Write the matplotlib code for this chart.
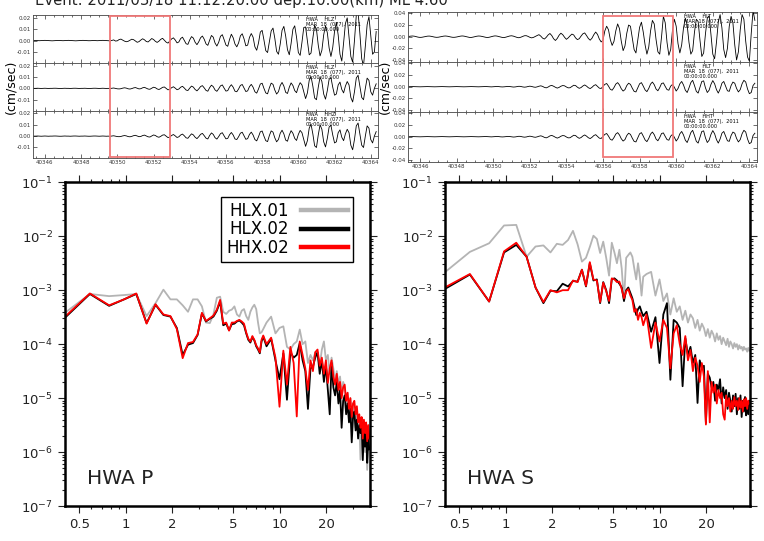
import matplotlib
matplotlib.use('Agg')
import matplotlib.pyplot as plt
from matplotlib.patches import Rectangle
from matplotlib.transforms import blended_transform_factory
from matplotlib.ticker import (FixedLocator, FixedFormatter, FormatStrFormatter, MultipleLocator,
                               LogLocator, NullFormatter)
import numpy as np

# ---- seismograms: 0.1 s samples from t0, amplitudes in 1e-3 cm/s ----
t0 = 40345.4
dt = 0.1

p_z01 = [0, 0.1, 0, -0.1, 0, 0.1, 0.2, 0.1, 0, -0.1, -0.2, -0.1, 0, 0.1, 0.1, 0, -0.1, 0, 0.1, 0.2,
         0.1, 0, -0.1, -0.2, -0.1, 0, 0.1, 0.2, 0.1, 0, -0.1, -0.1, 0, 0.1, 0, -0.1, 0, 0.1, 0.2, 0.1,
         0, -0.1,
         -0.3, 0.2, 0.6, -0.4, -0.2, 0.9, 1.3, 0.4, -0.5, -1.0, -0.6, 0.3, 1.2, 0.8, -0.4, -1.5, -0.9,
         0.5, 1.6, 0.7, -0.8, -1.2, 0.2, 1.8, 1.0, -0.6, -1.6, -0.5, 1.1, 2.0, 0.3, -1.4, -2.2, -0.4, 1.5,
         2.4, 0.5, -2.0, -1.2, 1.8, 3.0, 0.2, -2.8, -3.3, 0.6, 3.5, 2.2, -1.5, -3.6, -1.0, 2.5, 4.0,
         1.2, -2.9, -4.2, 0.3, 4.5, 3.0, -2.2, -4.8, -1.5, 3.8, 5.2, 0.8, -3.9, -5.0, 1.0, 5.6, 2.5,
         -3.0, -5.5, -2.0, 4.2, 6.0, 1.5, -4.6, -4.0, 2.8, 6.2,
         3.0, -5.5, -8.5, -2.0, 7.5, 9.0, 0.5, -8.8, -10.5, -1.0, 8.5, 11.0, 2.0, -9.5, -12.0, -3.0,
         9.0, 12.5, 4.0, -8.0, -12.5, -2.5, 10.0, 13.0, 3.0, -10.5, -13.0, -1.5, 11.5, 12.0, -0.5,
         -12.5, -11.0, 2.0, 13.5, 10.0, -4.0, -13.5, -8.5, 5.0, 13.0, 7.0, -6.5, -14.0, -6.0,
         8.0, 16.0, 5.0, -12.0, -18.0, -2.0, 15.0, 20.0, 3.0, -14.0, -19.0, 0.0, 22.0, 25.0, 6.0,
         -16.0, -22.0, -5.0, 14.0, 21.0, 4.0, -12.0, -10.0, 8.0]

p_z02 = [0, 0, 0.1, 0, -0.1, 0, 0.1, 0, -0.1, 0, 0, 0.1, 0.1, 0, -0.1, -0.1, 0, 0.1, 0, 0,
         -0.1, 0, 0.1, 0.1, 0, -0.1, 0, 0, 0.1, 0, -0.1, -0.1, 0, 0.1, 0.1, 0, -0.1, 0, 0.1, 0,
         -0.1, 0,
         -0.2, 0.1, 0.3, -0.1, -0.4, -0.5, -0.3, 0.2, 0.5, 0.2, -0.4, -0.6, -0.2, 0.4, 0.7, 0.1, -0.5,
         -0.3, 0.5, 0.9, 0.2, -0.6, -0.8, 0.1, 1.0, 0.6, -0.5, -1.0, -0.2, 0.9, 1.2, -0.1, -1.3, -0.8, 0.6,
         1.4, 0.2, -1.2, -0.6, 1.0, 1.8, 0.3, -1.5, -1.9, 0.2, 2.0, 1.1, -1.0, -2.2, -0.5, 1.6, 2.4,
         0.4, -1.8, -2.5, 0.6, 2.8, 1.5, -1.4, -2.6, -0.4, 2.2, 3.0, 0.2, -2.4, -2.0, 1.2, 3.2, 1.0,
         -2.5, -3.0, -0.5, 2.6, 3.4, 0.4, -2.8, -2.2, 1.5, 3.5,
         1.0, -3.0, -4.2, -0.5, 3.8, 4.5, 0.0, -4.0, -4.8, 0.5, 4.6, 3.5, -1.5, -5.0, -3.0, 2.5, 5.2,
         2.0, -3.5, -4.5, 1.0, 4.8, 2.5, -2.0, -3.8, 1.5, 5.0, 3.0, -3.0, -9.0, -4.0, 7.0, 10.5, 2.0,
         -8.5, -10.0, 1.0, 10.0, 6.0, -5.0, -9.5, -2.0, 8.0, 9.5, 1.0,
         -6.0, -5.0, 3.0, 5.5, -1.0, -4.0, 2.0, 6.0, 3.0, -8.0, -12.0, -3.0, 9.0, 11.5, 2.0, -8.0,
         -10.0, 0.0, 9.0, 7.0, -3.0, -6.0, 0.0, 4.0]

s_t01 = [0.5, 1.0, 1.2, 0.8, 0.0, -0.8, -1.2, -1.0, -0.4, 0.3,
         0.9, 1.1, 0.7, 0.0, -0.7, -1.1, -0.9, -0.3, 0.4, 1.0,
         1.2, 0.8, 0.1, -0.6, -1.1, -1.0, -0.5, 0.2, 0.9, 1.3,
         1.0, 0.3, -0.5, -1.2, -1.3, -0.7, 0.1, 0.8, 1.2, 1.0,
         0.4, -0.4, -1.1, -1.4, -0.8, 0.0, 0.9, 1.4, 1.1, 0.3,
         -0.6, -1.3, -1.5, -0.7, 0.3, 1.2, 1.6, 1.0, -0.2, -1.2,
         -1.8, -1.0, 0.4, 1.6, 1.8, 0.6, -1.0, -2.0, -1.2, 0.5,
         2.0, 3.5, 1.0, -2.5, -4.0, -1.0, 3.0, 5.5, 2.0, -3.5, -6.5, -3.0, 2.5, 6.0, 3.5, -1.0,
         -4.5, -2.0, 1.5, 4.5, 3.0, -2.0, -5.0, -3.5, 1.0, 5.0, 6.5, 2.0, -3.0, -6.0, -2.5, 3.5,
         8.0, 4.0, -4.0, -9.0,
         -6.0, 10.0, 18.0, 12.0, -5.0, -15.0, -8.0, 10.0, 22.0, 14.0, -8.0, -24.0, -16.0, 6.0,
         20.0, 18.0, -2.0, -22.0, -28.0, -6.0, 16.0, 25.0, 8.0, -14.0, -30.0, -18.0, 10.0, 28.0,
         22.0, -5.0, -26.0, -30.0, 0.0, 35.0, 24.0, -10.0, -32.0, -22.0, 12.0, 30.0,
         18.0, -12.0, -28.0, -14.0, 15.0, 32.0, 20.0, -10.0, -30.0, -24.0, 8.0, 30.0, 26.0, -6.0,
         -34.0, -28.0, 5.0, 32.0, 36.0, 4.0, -30.0, -38.0, -10.0, 25.0, 38.0, 15.0, -22.0, -36.0,
         -20.0, 18.0, 35.0, 24.0, -14.0, -40.0, -26.0, 12.0, 38.0, 30.0, -8.0, -35.0, -42.0, 5.0,
         45.0, 28.0]

s_t02 = [0, 0.1, 0.2, 0.1, 0, -0.1, -0.2, -0.1, 0, 0.1,
         0.2, 0.1, 0, -0.1, -0.2, -0.1, 0, 0.1, 0.2, 0.1,
         0, -0.1, -0.2, -0.1, 0, 0.1, 0.2, 0.1, 0, -0.1,
         -0.2, -0.1, 0, 0.1, 0.2, 0.1, 0, -0.1, -0.2, -0.1,
         0, 0.2, 0.3, 0.1, -0.2, -0.3, -0.1, 0.2, 0.4, 0.2,
         -0.2, -0.4, -0.2, 0.2, 0.5, 0.3, -0.2, -0.6, -0.4, 0.2,
         0.7, 0.5, -0.3, -0.8, -0.5, 0.3, 0.9, 0.4, -0.5, -1.0,
         -0.3, 0.8, 1.5, 0.5, -1.2, -2.0, -0.6, 1.4, 2.2, 0.8, -1.0, -2.4, -1.2, 0.8, 2.0, 1.5,
         -0.5, -2.0, -1.8, 0.3, 2.5, 2.0, -0.8, -2.8, -1.5, 1.2, 3.0, 1.0, -1.8, -3.2, -1.0, 2.0,
         3.5, 0.5, -2.5, -3.0,
         0.5, 4.0, 5.5, 1.0, -4.5, -6.0, -1.5, 4.5, 7.0, 3.0, -3.5, -7.5, -5.0, 2.0, 6.0, 4.0,
         -2.5, -8.0, -9.0, -2.0, 5.0, 7.0, 1.0, -5.5, -8.5, -3.0, 4.5, 8.0, 3.5, -4.0, -7.0, -1.5,
         5.5, 6.5, 0.5, -5.0, -6.0, 1.0, 4.0, -1.0,
         -7.5, -3.0, 5.0, 9.0, 3.0, -6.0, -10.0, -2.0, 7.0, 11.0, 2.0, -8.0, -11.0, -1.0, 9.0,
         10.0, -2.0, -10.0, -6.0, 4.0, 10.5, 5.0, -5.0, -11.0, -4.0, 6.0, 9.0, 1.0, -7.0, -8.0,
         2.0, 8.0, 6.0, -3.0, -9.0, -5.0, 5.0, 11.0, 8.0, -4.0, -12.0, -10.0, 2.0, 6.0]

# ---- spectra: log10 amplitude ----
# 39 values on a 0.1953 Hz grid (0.39-7.8 Hz), then 52 values on a 0.586 Hz grid (8.2-38 Hz)
p_hlx01 = [-3.45, -3.07, -3.11, -3.09, -3.07, -3.48, -3.24, -2.99, -3.17, -3.17, -3.28, -3.40, -3.17,
           -3.17, -3.30, -3.60, -3.61, -3.45, -3.14, -3.12, -3.40, -3.44, -3.38, -3.36, -3.30, -3.45,
           -3.49, -3.38, -3.35, -3.48, -3.55, -3.40, -3.32, -3.27, -3.35, -3.60, -3.80, -3.78, -3.72,
           -3.60, -3.49, -3.80, -3.70, -3.67, -4.05, -4.10, -4.00, -3.95, -3.73, -4.00, -3.95, -4.35,
           -4.20, -4.30, -4.15, -4.20, -4.40, -4.10, -3.95, -4.30, -4.20, -4.55, -4.25, -4.45, -4.70,
           -4.50, -4.75, -4.60, -4.95, -4.70, -4.80, -5.10, -4.90, -5.25, -5.00, -5.40, -5.10, -5.25,
           -5.55, -5.30, -5.70, -5.45, -6.14, -5.60, -5.85, -5.65, -6.00, -5.70, -6.33, -5.80, -5.90]
p_hlx02 = [-3.55, -3.07, -3.29, -3.17, -3.07, -3.61, -3.27, -3.46, -3.49, -3.70, -4.20, -4.01, -3.98,
           -3.83, -3.43, -3.58, -3.53, -3.49, -3.38, -3.21, -3.65, -3.62, -3.74, -3.63, -3.62, -3.58,
           -3.56, -3.60, -3.65, -3.80, -3.92, -3.97, -3.87, -3.93, -4.04, -4.10, -4.17, -3.95, -3.86,
           -4.04, -3.90, -4.30, -4.65, -4.17, -5.03, -4.15, -4.25, -4.20, -3.98, -4.30, -4.50, -5.20,
           -4.45, -4.42, -4.25, -4.15, -4.55, -4.30, -4.70, -4.40, -4.85, -5.30, -4.35, -4.80, -4.95,
           -4.70, -5.10, -4.85, -5.55, -5.05, -4.95, -5.30, -5.10, -5.45, -5.20, -5.82, -5.35, -5.25,
           -5.60, -5.40, -5.75, -5.50, -5.65, -5.45, -6.15, -5.60, -5.90, -5.55, -6.20, -5.75, -5.95]
p_hhx02 = [-3.53, -3.06, -3.28, -3.17, -3.06, -3.62, -3.26, -3.45, -3.48, -3.72, -4.26, -3.98, -3.96,
           -3.82, -3.42, -3.57, -3.52, -3.47, -3.36, -3.18, -3.62, -3.60, -3.75, -3.60, -3.60, -3.57,
           -3.55, -3.58, -3.62, -3.78, -3.90, -3.95, -3.85, -3.92, -4.02, -4.08, -4.15, -3.92, -3.84,
           -4.00, -3.88, -4.25, -5.16, -4.12, -4.75, -4.05, -4.35, -5.34, -3.95, -4.20, -4.45, -4.85,
           -4.30, -4.50, -4.15, -4.10, -4.40, -4.25, -4.55, -4.30, -4.72, -4.45, -4.30, -4.60, -4.75,
           -4.55, -4.85, -4.70, -5.00, -4.80, -4.75, -5.05, -4.90, -5.20, -5.00, -5.35, -5.10, -5.05,
           -5.30, -5.15, -5.45, -5.30, -5.55, -5.35, -5.75, -5.40, -5.65, -5.45, -5.80, -5.50, -5.75]

s_hlx01 = [-2.70, -2.29, -2.13, -1.80, -1.79, -2.38, -2.19, -2.17, -2.30, -2.14, -2.16, -2.07, -1.90,
           -2.15, -2.47, -2.40, -2.20, -1.99, -2.05, -2.31, -2.10, -2.40, -2.73, -2.12, -2.30, -2.50,
           -2.25, -2.60, -3.20, -2.40, -2.35, -2.30, -2.38, -2.60, -2.80, -2.50, -2.75, -3.10, -2.75,
           -2.70, -2.66, -3.10, -2.80, -3.20, -3.06, -3.45, -3.15, -3.40, -3.30, -3.55, -3.38, -3.60,
           -3.45, -3.52, -3.70, -3.55, -3.75, -3.62, -3.70, -3.85, -3.72, -3.88, -3.75, -3.82, -3.95,
           -3.80, -3.92, -3.85, -4.00, -3.88, -3.95, -4.02, -3.90, -4.05, -3.95, -4.00, -4.08, -3.98,
           -4.05, -4.00, -4.10, -4.02, -4.08, -4.05, -4.12, -4.05, -4.10, -4.08, -4.14, -4.07, -4.12]
s_hlx02 = [-3.00, -2.71, -3.21, -2.30, -2.16, -2.38, -2.95, -3.24, -3.01, -3.02, -2.88, -2.93, -2.83,
           -2.84, -2.62, -2.93, -2.50, -2.82, -2.80, -3.24, -2.85, -3.00, -3.24, -2.80, -2.78, -2.82,
           -2.88, -2.95, -3.20, -3.00, -2.95, -3.05, -3.15, -3.30, -3.46, -3.35, -3.30, -3.40, -3.48,
           -3.40, -3.77, -3.50, -4.35, -3.45, -3.24, -4.66, -3.55, -3.60, -3.70, -4.78, -3.89, -4.20,
           -4.05, -4.35, -4.20, -5.09, -4.30, -4.45, -4.40, -5.46, -4.55, -4.62, -4.80, -4.70, -5.05,
           -4.75, -4.85, -4.65, -5.10, -4.80, -5.00, -4.85, -5.20, -4.90, -5.05, -5.25, -4.95, -5.15,
           -4.92, -5.30, -5.00, -5.20, -4.95, -5.35, -5.05, -5.25, -4.98, -5.32, -5.10, -5.30, -5.05]
s_hhx02 = [-2.97, -2.70, -3.21, -2.28, -2.12, -2.38, -2.95, -3.22, -3.00, -3.04, -3.00, -3.00, -2.82,
           -2.85, -2.62, -2.92, -2.48, -2.80, -2.82, -3.22, -2.86, -3.02, -3.20, -2.78, -2.80, -2.85,
           -2.84, -2.98, -3.15, -3.02, -2.98, -3.10, -3.18, -3.40, -3.35, -3.55, -3.42, -3.50, -3.65,
           -3.45, -4.07, -3.60, -3.95, -3.55, -3.70, -4.45, -3.80, -3.65, -4.00, -4.20, -3.85, -4.30,
           -4.11, -4.50, -4.25, -4.40, -4.70, -4.35, -4.60, -5.49, -4.50, -5.45, -4.70, -4.90, -4.75,
           -5.10, -4.85, -5.00, -4.90, -5.30, -5.40, -4.95, -5.15, -5.00, -5.25, -5.05, -5.20, -4.98,
           -5.15, -5.05, -5.22, -5.00, -5.18, -5.05, -5.25, -5.02, -5.15, -5.00, -5.20, -5.05, -5.10]

freqs = np.concatenate([0.1953 * np.arange(2, 41), 8.203 + 0.586 * np.arange(52)])

series_labels = ['HLX.01', 'HLX.02', 'HHX.02']
series_colors = ['#b4b4b4', 'black', 'red']
freq_ticks = [0.5, 1, 2, 5, 10, 20]

W, H = 764, 541
fig = plt.figure(figsize=(W / 100, H / 100), dpi=100)


def fx(px):
    return px / W


def fy(py):
    return 1 - py / H


def seismo_panel(left, right, top, bottom, traces, names, ylim, yticks, box, ylabel_x):
    rowh = (bottom - top) / 3.
    axes = []
    for i, (tr, name) in enumerate(zip(traces, names)):
        y_top = top + i * rowh
        ax = fig.add_axes([fx(left), fy(y_top + rowh), fx(right - left), rowh / H])
        vals = np.array(tr) * 1e-3
        t = t0 + dt * np.arange(len(vals))
        ax.plot(t, vals, color='black', lw=0.6)
        ax.set_xlim(40345.36, 40364.4)
        ax.set_ylim(*ylim)
        ax.set_yticks(yticks)
        ax.yaxis.set_major_formatter(FormatStrFormatter('%.2f'))
        ax.xaxis.set_major_locator(MultipleLocator(2))
        ax.xaxis.set_minor_locator(MultipleLocator(0.5))
        ax.tick_params(which='both', direction='in', top=True, right=True,
                       labelsize=4.0, width=0.5, colors='#333333', pad=1.5)
        ax.tick_params(which='major', length=3)
        ax.tick_params(which='minor', length=1.5)
        if i < 2:
            ax.tick_params(labelbottom=False)
        for sp in ax.spines.values():
            sp.set_linewidth(0.6)
            sp.set_color('#444444')
        ax.text(40360.4, 0.96, 'HWA    ' + name + '\nMAR  18  (077),  2011\n00:00:00.000',
                transform=blended_transform_factory(ax.transData, ax.transAxes),
                fontsize=3.6, va='top', ha='left', linespacing=1.0)
        axes.append(ax)
    tr = blended_transform_factory(axes[0].transData, fig.transFigure)
    fig.add_artist(Rectangle((box[0], fy(156.7)), box[1] - box[0], fy(15.7) - fy(156.7),
                             transform=tr, fill=False, edgecolor='#f07878', lw=1.3,
                             clip_on=False, zorder=5))
    fig.text(fx(ylabel_x), fy((top + bottom) / 2.), '(cm/sec)', rotation=90,
             ha='center', va='center', fontsize=9)
    return axes


def spectrum_panel(left, right, top, bottom, data, name, show_legend):
    ax = fig.add_axes([fx(left), fy(bottom), fx(right - left), (bottom - top) / H])
    lines = []
    for vals, lab, col in zip(data, series_labels, series_colors):
        n = min(len(freqs), len(vals))
        ln, = ax.plot(freqs[:n], 10.0 ** np.array(vals[:n]), color=col, lw=1.3, label=lab)
        lines.append(ln)
    ax.set_xscale('log')
    ax.set_yscale('log')
    ax.set_xlim(0.404, 38.5)
    ax.set_ylim(1e-7, 1e-1)
    ax.xaxis.set_major_locator(FixedLocator(freq_ticks))
    ax.xaxis.set_major_formatter(FixedFormatter([str(v) for v in freq_ticks]))
    ax.xaxis.set_minor_formatter(NullFormatter())
    ax.yaxis.set_major_locator(LogLocator(base=10, numticks=10))
    ax.yaxis.set_minor_locator(LogLocator(base=10, subs=np.arange(2, 10), numticks=10))
    ax.yaxis.set_minor_formatter(NullFormatter())
    ax.tick_params(which='both', direction='out', top=True, right=True, labelsize=9.5,
                   width=0.8, colors='#222222')
    ax.tick_params(which='major', length=5)
    ax.tick_params(which='minor', length=2.5)
    for sp in ax.spines.values():
        sp.set_linewidth(1.8)
    ax.text(0.072, 0.068, name, transform=ax.transAxes, fontsize=14.5, color='#222222')
    if show_legend:
        leg = ax.legend(lines, series_labels, loc='upper right', bbox_to_anchor=(0.944, 0.956),
                        borderaxespad=0, markerfirst=False, fontsize=12, handlelength=2.8,
                        handletextpad=0.75, borderpad=0.3, labelspacing=0.05, fancybox=False,
                        framealpha=1)
        leg.get_frame().set_edgecolor('black')
        leg.get_frame().set_linewidth(1.0)
        for hl in leg.get_lines():
            hl.set_linewidth(3.2)
    return ax


seismo_panel(33.3, 378, 15, 158.3, [p_z01, p_z02, p_z02], ['HLZ', 'HLZ', 'HHZ'],
             (-0.0195, 0.0225), [-0.01, 0.0, 0.01, 0.02], (40349.62, 40352.92), 11)
seismo_panel(408.3, 756.7, 11.7, 161.7, [s_t01, s_t02, s_t02], ['HLT', 'HLT', 'HHT'],
             (-0.043, 0.043), [-0.04, -0.02, 0.0, 0.02, 0.04], (40356.0, 40359.8), 385)

fig.text(fx(35), fy(5), 'Event: 2011/03/18 11:12:20.00 dep:10.00(km) ML 4.60',
         fontsize=10.7, va='baseline', ha='left', color='#222222')

spectrum_panel(65, 370, 182.3, 506, [p_hlx01, p_hlx02, p_hhx02], 'HWA P', True)
spectrum_panel(445, 750, 182.3, 506, [s_hlx01, s_hlx02, s_hhx02], 'HWA S', False)

fig.savefig('out.png', dpi=100)
